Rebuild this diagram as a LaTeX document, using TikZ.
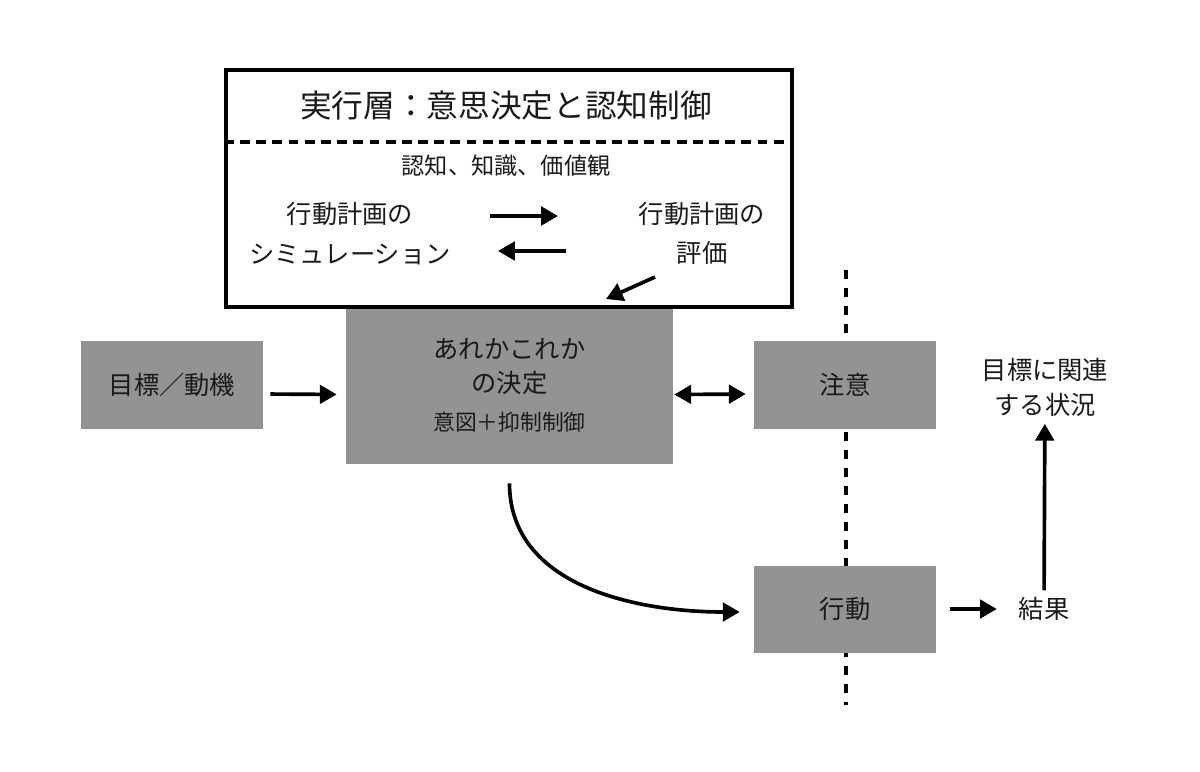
\documentclass[tikz,border=0pt]{standalone}
\usepackage{fontspec}
\setmainfont{Noto Sans CJK JP}
\usetikzlibrary{arrows.meta, positioning, calc}

\definecolor{boxgray}{HTML}{939393}
\definecolor{ink}{HTML}{1A1A1A}

\tikzset{
  graybox/.style={fill=boxgray, text=ink, align=center, inner sep=2pt,
    minimum width=4.55cm, minimum height=2.175cm, font=\fontsize{18}{24}\selectfont},
  words/.style={text=ink, align=center, inner sep=2pt, font=\fontsize{18}{28}\selectfont},
  arr/.style={-{Triangle[length=4.2mm,width=4.6mm]}, line width=2.6pt},
}

\begin{document}
\begin{tikzpicture}[x=0.025cm, y=-0.025cm]
\useasboundingbox (0,0) rectangle (1200,771);

% Boundary
\draw[line width=2.2pt, dash pattern=on 6.4pt off 6.4pt] (846,270) -- (846,705);

% Boxes
\node[graybox] (goal) at (172,385) {目標／動機};
\node[graybox, minimum width=8.175cm, minimum height=3.925cm] (decide) at (509.5,385.5)
  {あれかこれか\\の決定\\[3pt]{\fontsize{15.5}{20}\selectfont 意図＋抑制制御}};
\node[graybox] (attention) at (845,385) {注意};
\node[graybox] (action) at (845,609) {行動};

% Executive layer
\node[draw, line width=2.8pt, minimum width=14.15cm, minimum height=5.925cm] (exec) at (509,188.5) {};
\draw[line width=2.2pt, dash pattern=on 7pt off 4.5pt] (exec.west |- 0,142) -- (exec.east |- 0,142);
\node[words, font=\fontsize{22.5}{28}\selectfont] (title) at (506,106) {実行層：意思決定と認知制御};
\node[words, font=\fontsize{16.5}{20}\selectfont] (base) at (506,166) {認知、知識、価値観};
\node[words] (sim) at (350,233.5) {行動計画の\\シミュレーション};
\node[words] (eval) at (702,233.5) {行動計画の\\評価};

\coordinate (r1) at (490,216);
\coordinate (r2) at (558,216);
\coordinate (l1) at (566,251);
\coordinate (l2) at (498,251);
\coordinate (d1) at (655,277);
\coordinate (d2) at (606,299);
\draw[arr] (r1) -- (r2);
\draw[arr] (l1) -- (l2);
\draw[arr] (d1) -- (d2);

% Outcome
\node[words] (result) at (1044,609) {結果};
\node[words, font=\fontsize{18}{25}\selectfont] (situation) at (1045,387.5) {目標に関連\\する状況};

% Connectors
\draw[arr, shorten <=1.75mm, shorten >=2.25mm] ([yshift=-2.25mm]goal.east) -- ([yshift=-2.25mm]decide.west);
\draw[{Triangle[length=4.2mm,width=4.6mm]}-{Triangle[length=4.2mm,width=4.6mm]}, line width=2.6pt,
  shorten <=0.25mm, shorten >=2mm] ([yshift=-2.25mm]decide.east) -- ([yshift=-2.25mm]attention.west);
\draw[arr] ([yshift=-4.75mm]decide.south) to[out=-90, in=180] ([xshift=-3.5mm, yshift=-0.75mm]action.west);
\draw[arr, shorten <=3.5mm, shorten >=4.7mm] (action) -- (result);
\draw[arr, shorten <=1mm, shorten >=1mm] (result) -- (situation);
\end{tikzpicture}
\end{document}
